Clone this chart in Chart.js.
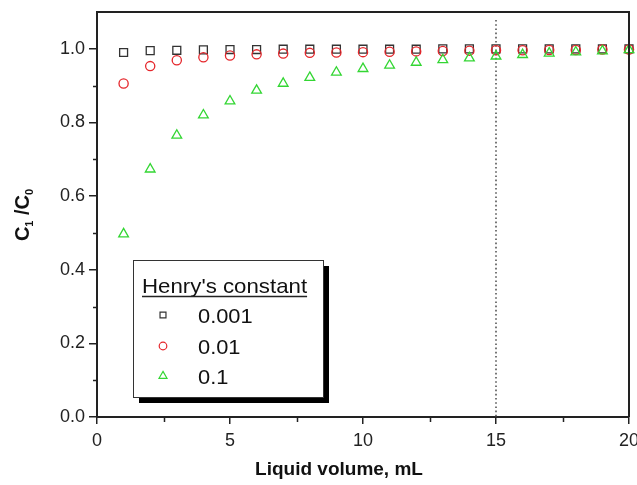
<!DOCTYPE html>
<html>
<head>
<meta charset="utf-8">
<script src="https://cdn.jsdelivr.net/npm/chart.js@4/dist/chart.umd.min.js"></script>
<style>
html,body{margin:0;padding:0;background:#fff;}
canvas{display:block;}
</style>
</head>
<body>
<canvas id="c" width="637" height="485"></canvas>
<script>
// ---- data ----
const volumes = [1,2,3,4,5,6,7,8,9,10,11,12,13,14,15,16,17,18,19,20];
const henry0001 = [0.990,0.995,0.996,0.997,0.998,0.998,0.999,0.999,0.999,0.999,0.999,0.999,1.000,1.000,1.000,1.000,1.000,1.000,1.000,1.000];
const henry001  = [0.906,0.953,0.969,0.977,0.982,0.985,0.987,0.989,0.990,0.991,0.992,0.993,0.994,0.995,0.996,0.996,0.997,0.997,0.998,0.998];
const henry01   = [0.497,0.673,0.765,0.820,0.858,0.887,0.906,0.922,0.936,0.946,0.955,0.963,0.970,0.975,0.980,0.984,0.988,0.991,0.994,0.997];
const seriesLabels = ["0.001","0.01","0.1"];
const legendTitle = "Henry's constant";
const xTitle = "Liquid volume, mL";
const yMajorTicks = [0,0.2,0.4,0.6,0.8,1.0];
const yMinorTicks = [0.1,0.3,0.5,0.7,0.9];
const xMajorTicks = [0,5,10,15,20];
const xMinorTicks = [2.5,7.5,12.5,17.5];
const markerLine = 15;

const colors = ['#333333','#e5262b','#33d633'];
const styles = ['rect','circle','triangle'];
const radii = [5.6,4.6,5.6];

const toPts = arr => arr.map((v,i)=>({x:volumes[i], y:v}));

const FONT = "'Liberation Sans', Arial, Helvetica, sans-serif";

const extras = {
  id:'extras',
  beforeDatasetsDraw(chart){
    const ctx = chart.ctx, xs = chart.scales.x, a = chart.chartArea;
    ctx.save();
    ctx.strokeStyle = '#555';
    ctx.lineWidth = 1.6;
    ctx.setLineDash([1.6,2.6]);
    const px = Math.round(xs.getPixelForValue(markerLine));
    ctx.beginPath();
    ctx.moveTo(px, a.top + 8);
    ctx.lineTo(px, a.bottom);
    ctx.stroke();
    ctx.restore();
  },
  afterDraw(chart){
    const ctx = chart.ctx, xs = chart.scales.x, ys = chart.scales.y, a = chart.chartArea;
    ctx.save();
    ctx.strokeStyle = '#222';
    ctx.lineWidth = 2;
    ctx.beginPath();
    ctx.moveTo(a.left, a.top);
    ctx.lineTo(a.right, a.top);
    ctx.lineTo(a.right, a.bottom);
    ctx.stroke();
    ctx.lineWidth = 1.5;
    ctx.beginPath();
    yMinorTicks.forEach(v=>{
      const py = Math.round(ys.getPixelForValue(v))+0.5;
      ctx.moveTo(a.left, py); ctx.lineTo(a.left-4, py);
    });
    xMinorTicks.forEach(v=>{
      const px = Math.round(xs.getPixelForValue(v))+0.5;
      ctx.moveTo(px, a.bottom); ctx.lineTo(px, a.bottom+5);
    });
    ctx.stroke();

    // x title
    ctx.fillStyle = '#111';
    ctx.font = "bold 19px " + FONT;
    ctx.textAlign = 'center';
    ctx.textBaseline = 'alphabetic';
    ctx.fillText(xTitle, 339, 475);

    // y title
    ctx.save();
    ctx.translate(29, 215);
    ctx.rotate(-Math.PI/2);
    const big = "bold 20px " + FONT, small = "bold 11px " + FONT;
    const parts = [['C',big,0],['1',small,4],[' /',big,0],['C',big,0],['0',small,4]];
    let total = 0;
    parts.forEach(p=>{ctx.font=p[1]; total += ctx.measureText(p[0]).width;});
    let cx = -total/2;
    ctx.textAlign = 'left';
    parts.forEach(p=>{ctx.font=p[1]; ctx.fillText(p[0], cx, p[2]); cx += ctx.measureText(p[0]).width;});
    ctx.restore();

    // legend
    const lx=133, ly=260, lw=190, lh=137;
    ctx.fillStyle = '#000';
    ctx.fillRect(lx+6, ly+6, lw, lh);
    ctx.fillStyle = '#fff';
    ctx.fillRect(lx, ly, lw, lh);
    ctx.strokeStyle = '#333';
    ctx.lineWidth = 1;
    ctx.strokeRect(lx+0.5, ly+0.5, lw, lh);
    ctx.fillStyle = '#111';
    ctx.font = "21px " + FONT;
    ctx.textAlign = 'left';
    ctx.save();
    ctx.translate(142, 293);
    ctx.scale(1.06, 1);
    ctx.fillText(legendTitle, 0, 0);
    ctx.restore();
    const tw = ctx.measureText(legendTitle).width * 1.06;
    ctx.strokeStyle = '#222';
    ctx.lineWidth = 1.5;
    ctx.beginPath(); ctx.moveTo(142, 296.5); ctx.lineTo(142+tw, 296.5); ctx.stroke();
    const rows = [315,346,376];
    const lr = [4.2,3.8,4.6];
    seriesLabels.forEach((lab,i)=>{
      ctx.strokeStyle = colors[i];
      ctx.fillStyle = 'rgba(0,0,0,0)';
      ctx.lineWidth = 1.2;
      Chart.helpers.drawPoint(ctx, {pointStyle: styles[i], radius: lr[i], rotation:0, borderWidth:1.2}, 163, rows[i]);
      ctx.fillStyle = '#111';
      ctx.save();
      ctx.translate(198, rows[i]+8);
      ctx.scale(1.04, 1);
      ctx.fillText(lab, 0, 0);
      ctx.restore();
    });
    ctx.restore();
  }
};

new Chart(document.getElementById('c'), {
  type:'scatter',
  data:{
    datasets:[0,1,2].map(i=>({
      label: seriesLabels[i],
      data: toPts([henry0001,henry001,henry01][i]),
      pointStyle: styles[i],
      pointRadius: radii[i],
      pointBorderColor: colors[i],
      pointBackgroundColor: 'rgba(0,0,0,0)',
      pointBorderWidth: 1.3,
      showLine:false,
      clip:false,
      order: 3-i
    }))
  },
  options:{
    responsive:false,
    animation:false,
    layout:{padding:{top:12,right:8,left:0,bottom:0}},
    plugins:{legend:{display:false},tooltip:{enabled:false}},
    scales:{
      x:{
        type:'linear', min:0, max:20,
        afterBuildTicks(s){ s.ticks = xMajorTicks.map(v=>({value:v})); },
        afterFit(s){ s.height = 68; s.paddingLeft=0; s.paddingRight=0; },
        grid:{drawOnChartArea:false, tickLength:7, color:'#222', lineWidth:1.5},
        border:{display:true, color:'#222', width:2},
        ticks:{color:'#222', font:{family:FONT, size:18}, padding:6, maxRotation:0, callback:v=>String(v)}
      },
      y:{
        type:'linear', min:0, max:1.1,
        afterBuildTicks(s){ s.ticks = yMajorTicks.map(v=>({value:v})); },
        afterFit(s){ s.width = 97; s.paddingTop=0; s.paddingBottom=0; },
        grid:{drawOnChartArea:false, tickLength:8, color:'#222', lineWidth:1.5},
        border:{display:true, color:'#222', width:2},
        ticks:{color:'#222', font:{family:FONT, size:18}, padding:4, callback:v=>Number(v).toFixed(1)}
      }
    }
  },
  plugins:[extras]
});
</script>
</body>
</html>
